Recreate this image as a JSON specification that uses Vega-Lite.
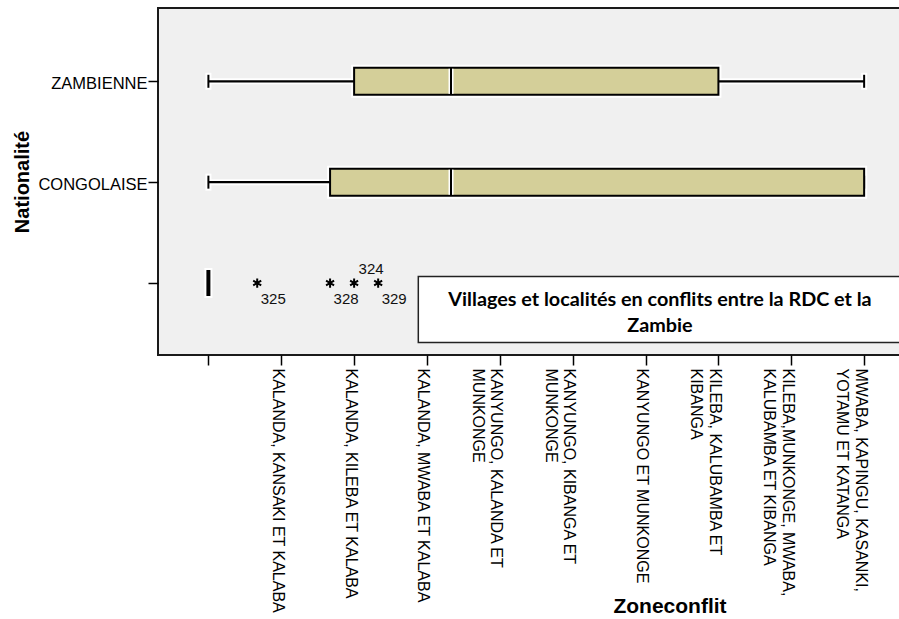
{
  "$schema": "https://vega.github.io/schema/vega-lite/v6.json",
  "autosize": {"type": "none"},
  "width": 760,
  "height": 347,
  "padding": {"left": 158, "top": 8, "right": -19, "bottom": 264},
  "background": "white",
  "config": {
    "view": {"fill": "#f0f0f0", "stroke": "#1a1a1a", "strokeWidth": 2},
    "font": "Liberation Sans"
  },
  "datasets": {
    "boxes": [
      {"nat": "ZAMBIENNE", "code": 1, "min": 0, "q1": 2, "median": 3.33, "q3": 7, "max": 9},
      {"nat": "CONGOLAISE", "code": 2, "min": 0, "q1": 1.67, "median": 3.33, "q3": 9, "max": 9},
      {"nat": "", "code": 3, "min": 0, "q1": 0, "median": 0, "q3": 0, "max": 0}
    ],
    "outliers": [
      {"code": 3, "v": 0.67, "id": "325", "pos": "below"},
      {"code": 3, "v": 1.67, "id": "328", "pos": "below"},
      {"code": 3, "v": 2.0, "id": "324", "pos": "above"},
      {"code": 3, "v": 2.33, "id": "329", "pos": "below"}
    ],
    "note": [
      {"x1": 2.881, "x2": 9.6, "y1": 2.9355, "y2": 3.59, "tx": 6.198, "ty": 3.2244}
    ]
  },
  "layer": [
    {
      "data": {"name": "boxes"},
      "mark": {"type": "rule", "color": "white", "strokeWidth": 6},
      "encoding": {
        "y": {
          "field": "code",
          "type": "quantitative",
          "scale": {"domain": [0.323, 3.664], "reverse": true, "nice": false, "zero": false},
          "axis": {
            "values": [1, 2, 3],
            "labelExpr": "datum.value == 1 ? 'ZAMBIENNE' : datum.value == 2 ? 'CONGOLAISE' : ''",
            "domain": false,
            "grid": false,
            "tickSize": 10,
            "tickColor": "#000000",
            "tickWidth": 1.5,
            "labelPadding": 1,
            "labelFont": "Liberation Sans",
            "labelFontSize": 16.5,
            "labelColor": "#000000",
            "labelBaseline": "middle",
            "labelOffset": 2.5,
            "title": "Nationalité",
            "titleFont": "Liberation Sans",
            "titleFontSize": 20,
            "titleFontWeight": "bold",
            "titleColor": "#000000",
            "titleX": -130,
            "titleY": 173.5,
            "titleAlign": "center",
            "titleBaseline": "alphabetic",
            "titleAngle": 270
          }
        },
        "x": {
          "field": "min",
          "type": "quantitative",
          "scale": {"domain": [-0.6917, 9.7393], "nice": false, "zero": false},
          "axis": {
            "values": [0, 1, 2, 3, 4, 5, 6, 7, 8, 9],
            "labelExpr": "[[''],['KALANDA, KANSAKI ET KALABA'],['KALANDA, KILEBA ET KALABA'],['KALANDA, MWABA ET KALABA'],['KANYUNGO, KALANDA ET','MUNKONGE'],['KANYUNGO, KIBANGA ET','MUNKONGE'],['KANYUNGO ET MUNKONGE'],['KILEBA, KALUBAMBA ET','KIBANGA'],['KILEBA,MUNKONGE, MWABA,','KALUBAMBA ET KIBANGA'],['MWABA, KAPINGU, KASANKI,','YOTAMU ET KATANGA']][round(datum.value)]",
            "domain": false,
            "grid": false,
            "tickSize": 10,
            "tickColor": "#000000",
            "tickWidth": 1.5,
            "labelAngle": 90,
            "labelAlign": "left",
            "labelBaseline": "alphabetic",
            "labelOffset": -9,
            "labelPadding": 3,
            "labelFont": "Liberation Sans",
            "labelFontSize": 16,
            "labelColor": "#000000",
            "labelLineHeight": 18.5,
            "labelLimit": 500,
            "labelOverlap": false,
            "labelFlush": false,
            "title": "Zoneconflit",
            "titleFont": "Liberation Sans",
            "titleFontSize": 21,
            "titleFontWeight": "bold",
            "titleColor": "#000000",
            "titleX": 511.5,
            "titleY": 257.6,
            "titleAlign": "center",
            "titleBaseline": "alphabetic"
          }
        },
        "x2": {"field": "max"}
      }
    },
    {
      "data": {"name": "boxes"},
      "mark": {"type": "tick", "orient": "vertical", "color": "white", "thickness": 6, "size": 17, "opacity": 1},
      "encoding": {"x": {"field": "min", "type": "quantitative"}, "y": {"field": "code", "type": "quantitative"}}
    },
    {
      "data": {"name": "boxes"},
      "mark": {"type": "tick", "orient": "vertical", "color": "white", "thickness": 6, "size": 17, "opacity": 1},
      "encoding": {"x": {"field": "max", "type": "quantitative"}, "y": {"field": "code", "type": "quantitative"}}
    },
    {
      "data": {"name": "boxes"},
      "transform": [{"filter": "datum.q3 > datum.q1"}],
      "mark": {"type": "bar", "orient": "horizontal", "fill": "white", "stroke": "white", "strokeWidth": 6, "size": 27},
      "encoding": {"x": {"field": "q1", "type": "quantitative"}, "x2": {"field": "q3"}, "y": {"field": "code", "type": "quantitative"}}
    },
    {
      "data": {"name": "boxes"},
      "mark": {"type": "rule", "color": "#000000", "strokeWidth": 2.3},
      "encoding": {"x": {"field": "min", "type": "quantitative"}, "x2": {"field": "max"}, "y": {"field": "code", "type": "quantitative"}}
    },
    {
      "data": {"name": "boxes"},
      "mark": {"type": "tick", "orient": "vertical", "color": "#000000", "thickness": 2, "size": 13, "opacity": 1},
      "encoding": {"x": {"field": "min", "type": "quantitative"}, "y": {"field": "code", "type": "quantitative"}}
    },
    {
      "data": {"name": "boxes"},
      "mark": {"type": "tick", "orient": "vertical", "color": "#000000", "thickness": 2, "size": 13, "opacity": 1},
      "encoding": {"x": {"field": "max", "type": "quantitative"}, "y": {"field": "code", "type": "quantitative"}}
    },
    {
      "data": {"name": "boxes"},
      "transform": [{"filter": "datum.q3 > datum.q1"}],
      "mark": {"type": "bar", "orient": "horizontal", "fill": "#d4cf99", "stroke": "#000000", "strokeWidth": 2, "size": 27},
      "encoding": {"x": {"field": "q1", "type": "quantitative"}, "x2": {"field": "q3"}, "y": {"field": "code", "type": "quantitative"}}
    },
    {
      "data": {"name": "boxes"},
      "transform": [{"filter": "datum.q3 > datum.q1"}],
      "mark": {"type": "tick", "orient": "vertical", "color": "white", "thickness": 5, "size": 25, "opacity": 1},
      "encoding": {"x": {"field": "median", "type": "quantitative"}, "y": {"field": "code", "type": "quantitative"}}
    },
    {
      "data": {"name": "boxes"},
      "transform": [{"filter": "datum.q3 > datum.q1"}],
      "mark": {"type": "tick", "orient": "vertical", "color": "#000000", "thickness": 2, "size": 27, "opacity": 1},
      "encoding": {"x": {"field": "median", "type": "quantitative"}, "y": {"field": "code", "type": "quantitative"}}
    },
    {
      "data": {"name": "boxes"},
      "transform": [{"filter": "datum.q3 == datum.q1"}],
      "mark": {"type": "tick", "orient": "vertical", "color": "white", "thickness": 8, "size": 30, "opacity": 1},
      "encoding": {"x": {"field": "median", "type": "quantitative"}, "y": {"field": "code", "type": "quantitative"}}
    },
    {
      "data": {"name": "boxes"},
      "transform": [{"filter": "datum.q3 == datum.q1"}],
      "mark": {"type": "tick", "orient": "vertical", "color": "#000000", "thickness": 4, "size": 26, "opacity": 1},
      "encoding": {"x": {"field": "median", "type": "quantitative"}, "y": {"field": "code", "type": "quantitative"}}
    },
    {
      "data": {"name": "outliers"},
      "mark": {"type": "point", "shape": "M0,-1L0,1M-0.87,-0.5L0.87,0.5M-0.87,0.5L0.87,-0.5", "filled": false, "stroke": "#000000", "strokeWidth": 2, "size": 85, "opacity": 1},
      "encoding": {"x": {"field": "v", "type": "quantitative"}, "y": {"field": "code", "type": "quantitative"}}
    },
    {
      "data": {"name": "outliers"},
      "transform": [{"filter": "datum.pos == 'below'"}],
      "mark": {"type": "text", "font": "Liberation Sans", "fontSize": 15, "color": "#111111", "align": "center", "baseline": "middle", "dx": 16, "dy": 16},
      "encoding": {"x": {"field": "v", "type": "quantitative"}, "y": {"field": "code", "type": "quantitative"}, "text": {"field": "id"}}
    },
    {
      "data": {"name": "outliers"},
      "transform": [{"filter": "datum.pos == 'above'"}],
      "mark": {"type": "text", "font": "Liberation Sans", "fontSize": 15, "color": "#111111", "align": "center", "baseline": "middle", "dx": 17, "dy": -14},
      "encoding": {"x": {"field": "v", "type": "quantitative"}, "y": {"field": "code", "type": "quantitative"}, "text": {"field": "id"}}
    },
    {
      "data": {"name": "note"},
      "mark": {"type": "rect", "fill": "white", "stroke": "#222222", "strokeWidth": 1.5},
      "encoding": {
        "x": {"field": "x1", "type": "quantitative"},
        "x2": {"field": "x2"},
        "y": {"field": "y1", "type": "quantitative"},
        "y2": {"field": "y2"}
      }
    },
    {
      "data": {"name": "note"},
      "mark": {"type": "text", "text": ["Villages et localités en conflits entre la RDC et la", "Zambie"], "font": "Lato", "fontWeight": "bold", "fontSize": 19.8, "lineHeight": 26.7, "color": "#000000", "align": "center", "baseline": "alphabetic"},
      "encoding": {
        "x": {"field": "tx", "type": "quantitative"},
        "y": {"field": "ty", "type": "quantitative"}
      }
    }
  ]
}
